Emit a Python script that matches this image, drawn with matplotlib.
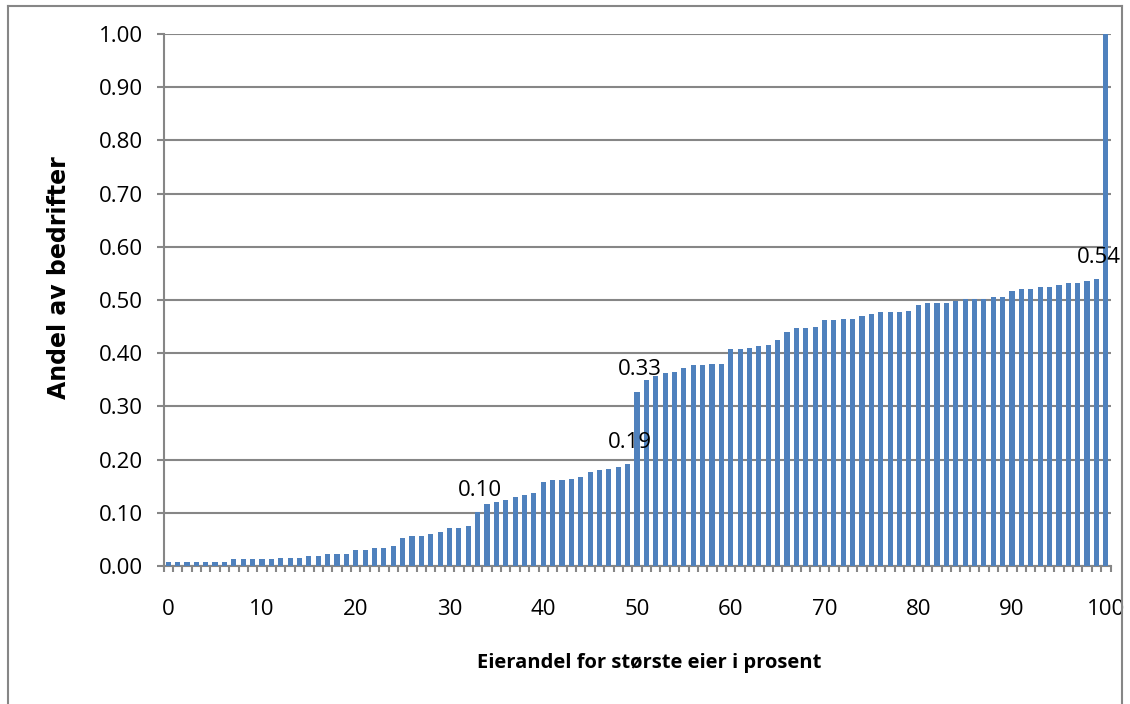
import matplotlib
matplotlib.use('Agg')
import matplotlib.pyplot as plt
from matplotlib.lines import Line2D

plt.rcParams['font.family'] = ['Open Sans', 'DejaVu Sans']

# eierandel 0..100 prosent
eierandel = list(range(101))
andel = [
    0.008, 0.008, 0.008, 0.008, 0.008, 0.008, 0.008, 0.013, 0.013, 0.013,
    0.013, 0.013, 0.015, 0.015, 0.015, 0.019, 0.019, 0.023, 0.023, 0.023,
    0.030, 0.030, 0.034, 0.034, 0.038, 0.052, 0.056, 0.056, 0.060, 0.064,
    0.071, 0.071, 0.075, 0.102, 0.117, 0.121, 0.125, 0.129, 0.133, 0.137,
    0.157, 0.161, 0.161, 0.164, 0.168, 0.176, 0.180, 0.183, 0.187, 0.191,
    0.328, 0.349, 0.358, 0.362, 0.364, 0.373, 0.377, 0.377, 0.379, 0.379,
    0.407, 0.407, 0.409, 0.413, 0.416, 0.424, 0.439, 0.447, 0.447, 0.450,
    0.462, 0.462, 0.465, 0.465, 0.469, 0.473, 0.477, 0.477, 0.477, 0.480,
    0.491, 0.494, 0.494, 0.494, 0.498, 0.502, 0.502, 0.502, 0.506, 0.506,
    0.517, 0.521, 0.521, 0.525, 0.525, 0.528, 0.532, 0.532, 0.536, 0.540,
    1.000,
]
merket = [33, 49, 50, 99]  # bars with data labels
yticks = [i / 10 for i in range(11)]
xticks = list(range(0, 101, 10))

grey = '#868686'
blue = '#4F81BD'

fig = plt.figure(figsize=(11.3, 7.04), dpi=100)
ax = fig.add_axes([163.5 / 1130, 1 - 566 / 704, 947 / 1130, 532 / 704])

ax.bar(eierandel, andel, width=0.55, color=blue, zorder=3)

ax.set_xlim(-0.5, 100.5)
ax.set_ylim(0, 1.0)
ax.set_yticks(yticks)
ax.set_yticklabels([f'{v:.2f}' for v in yticks])
ax.set_xticks(xticks)
ax.set_xticks([i - 0.5 for i in range(102)], minor=True)

ax.grid(axis='y', color=grey, linewidth=1.5, zorder=0)
for s in ['top', 'right']:
    ax.spines[s].set_visible(False)
for s in ['left', 'bottom']:
    ax.spines[s].set_color(grey)
    ax.spines[s].set_linewidth(1.5)

ax.tick_params(axis='y', length=5, width=1.5, color=grey, pad=10, labelsize=16)
ax.tick_params(axis='x', which='major', length=0, pad=24, labelsize=16)
ax.tick_params(axis='x', which='minor', length=4, width=1.5, color=grey)

fig.text(59 / 1130, 1 - 278 / 704, 'Andel av bedrifter', rotation=90,
         fontsize=17, fontweight='bold', family='DejaVu Sans',
         ha='center', va='center')
fig.text(649 / 1130, 1 - 663 / 704, 'Eierandel for største eier i prosent',
         fontsize=14.5, fontweight='bold', ha='center', va='center')

for i in merket:
    ax.annotate(f'{andel[i]:.2f}', (eierandel[i], andel[i]), xytext=(2, 8),
                textcoords='offset points', ha='center', va='bottom',
                fontsize=16, zorder=4)

# outer chart border
for xs, ys in [([8, 8], [0, 698]), ([8, 1122], [698, 698]), ([1122, 1122], [0, 698])]:
    fig.add_artist(Line2D([x / 1130 for x in xs], [y / 704 for y in ys],
                          color=grey, linewidth=1.5))

fig.savefig('out.png', dpi=100)
